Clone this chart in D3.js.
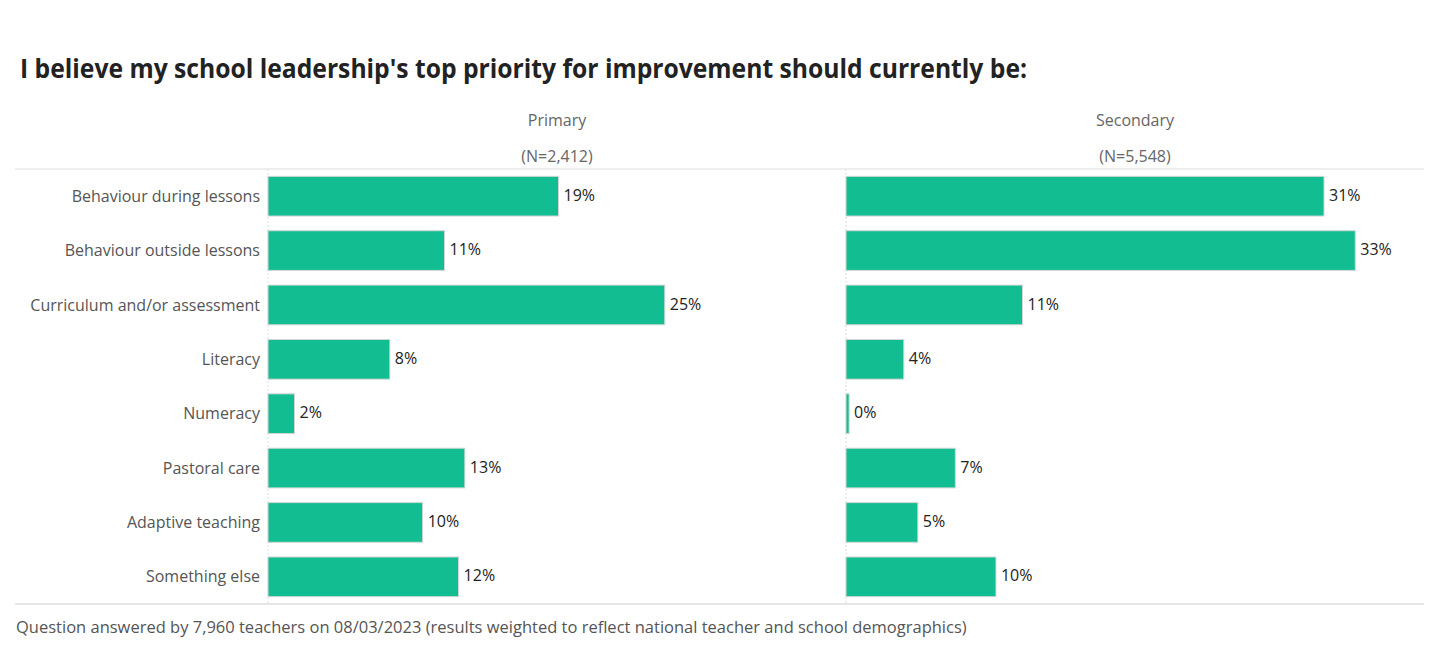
<!DOCTYPE html>
<html><head><meta charset="utf-8">
<script src="https://cdn.jsdelivr.net/npm/d3@7"></script>
<style>body{margin:0;background:#fff;}svg{display:block;}</style>
</head><body>
<svg id="chart" width="1440" height="655"></svg>
<script>
const categories = ["Behaviour during lessons","Behaviour outside lessons","Curriculum and/or assessment","Literacy","Numeracy","Pastoral care","Adaptive teaching","Something else"];
const primaryValues = [18.6, 11.3, 25.4, 7.8, 1.7, 12.6, 9.9, 12.2];
const secondaryValues = [30.6, 32.6, 11.3, 3.7, 0.2, 7.0, 4.6, 9.6];
const panelNames = ["Primary", "Secondary"];
const panelNs = ["(N=2,412)", "(N=5,548)"];
const titleText = "I believe my school leadership's top priority for improvement should currently be:";
const footerText = "Question answered by 7,960 teachers on 08/03/2023 (results weighted to reflect national teacher and school demographics)";

const svg = d3.select("#chart");
const font = "'Open Sans', Lato, sans-serif";
const barColor = "#12be91";
const plotTop = 169, plotBottom = 604, plotLeft = 268, panelW = 578;
const y = d3.scaleBand().domain(categories).range([plotTop, plotBottom]).paddingInner(0.27).paddingOuter(0.135);
const x = d3.scaleLinear().domain([0, 37]).range([0, panelW]);
const series = [primaryValues, secondaryValues];

svg.append("text").attr("x", 20).attr("y", 78).text(titleText)
  .attr("font-family", font).attr("font-weight", 700).attr("font-size", 27).attr("fill", "#222")
  .attr("textLength", 1007).attr("lengthAdjust", "spacingAndGlyphs");

svg.append("line").attr("x1", 15).attr("x2", 1424).attr("y1", plotTop).attr("y2", plotTop).attr("stroke", "#ddd");
svg.append("line").attr("x1", 15).attr("x2", 1424).attr("y1", plotBottom).attr("y2", plotBottom).attr("stroke", "#ccc");

svg.append("g").selectAll("text").data(categories).join("text")
  .attr("x", plotLeft - 8).attr("y", d => y(d) + y.bandwidth() / 2).attr("dy", "0.35em")
  .attr("text-anchor", "end").attr("font-family", font).attr("font-size", 16).attr("fill", "#555").text(d => d);

series.forEach((vals, i) => {
  const x0 = plotLeft + i * panelW;
  const g = svg.append("g").attr("transform", `translate(${x0},0)`);
  g.append("line").attr("x1", 0).attr("x2", 0).attr("y1", plotTop).attr("y2", plotBottom)
    .attr("stroke", "#ddd").attr("stroke-dasharray", "2,2");
  g.append("text").attr("x", panelW / 2).attr("y", 120).attr("dy", "0.35em").attr("text-anchor", "middle")
    .attr("font-family", font).attr("font-size", 16).attr("fill", "#666").text(panelNames[i]);
  g.append("text").attr("x", panelW / 2).attr("y", 156).attr("dy", "0.35em").attr("text-anchor", "middle")
    .attr("font-family", font).attr("font-size", 16).attr("fill", "#666").text(panelNs[i]);
  g.selectAll("rect").data(vals).join("rect")
    .attr("x", 0).attr("y", (d, j) => y(categories[j]))
    .attr("width", d => Math.max(x(d), 3)).attr("height", y.bandwidth())
    .attr("fill", barColor).attr("stroke", "#d6d6d6").attr("stroke-width", 1);
  g.selectAll("text.val").data(vals).join("text").attr("class", "val")
    .attr("x", d => Math.max(x(d), 3) + 5).attr("y", (d, j) => y(categories[j]) + y.bandwidth() / 2 - 1).attr("dy", "0.35em")
    .attr("font-family", font).attr("font-size", 16).attr("fill", "#222").text(d => Math.round(d) + "%");
});

svg.append("text").attr("x", 16).attr("y", 627).attr("dy", "0.35em").text(footerText)
  .attr("font-family", font).attr("font-size", 16.5).attr("fill", "#555");
</script>
</body></html>
